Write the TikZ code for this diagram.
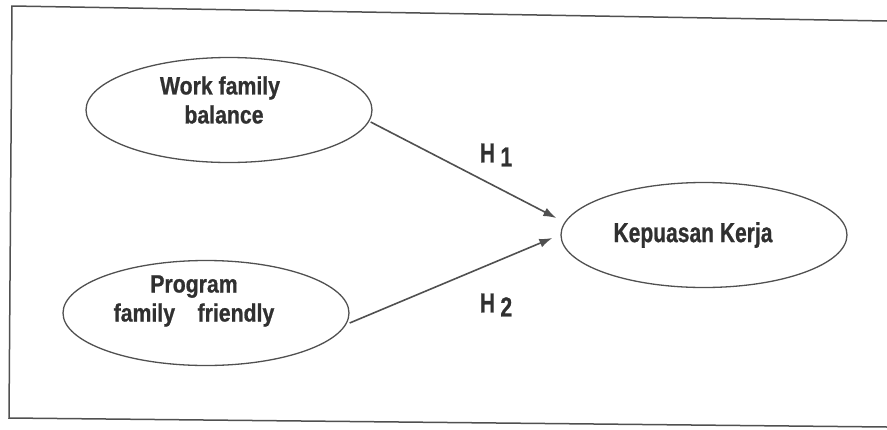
\documentclass[tikz,border=0pt]{standalone}
\usepackage{graphicx}
\usepackage{fontspec}
\setmainfont{Liberation Sans}[FakeStretch=0.85,BoldFeatures={FakeBold=0.8}]
\usetikzlibrary{shapes.geometric,arrows.meta,positioning}

\definecolor{inkline}{HTML}{505050}
\definecolor{inktext}{HTML}{303030}

\tikzset{
  var/.style={ellipse, draw=inkline, line width=1.3pt, minimum width=286pt, minimum height=105pt, inner sep=0pt},
  txt/.style={align=center, inner sep=0pt, text=inktext, font=\fontsize{25}{29}\selectfont\bfseries},
  big/.style={txt, font=\fontsize{27.5}{30}\selectfont\bfseries},
  conn/.style={draw=inkline, line width=1.6pt},
  frame/.style={draw=inkline, line width=1.5pt}
}

\begin{document}
\begin{tikzpicture}[x=1pt,y=-1pt,node distance=200pt,on grid,>={Latex[length=13pt,width=9pt]}]
  \useasboundingbox (0,0) rectangle (887,429);
  \draw[frame] (887,21) -- (12,6) -- (9,418) -- (887,427);
  \node[var] (wfb) at (229,110) {};
  \node[var] (pff) [below left=203pt and 23pt of wfb] {};
  \node[var] (kk) [below right=125pt and 475pt of wfb] {};
  \node[txt] (wfbtxt) [above left=10pt and 9pt of wfb] {Work family\\ \hspace*{8pt}balance};
  \node[txt] (pfftxt) [above left=12pt and 12pt of pff] {Program\\family\hspace{0.9em}friendly};
  \node[big] (kktxt) [left=11pt of kk] {\scalebox{0.9}[1]{Kepuasan Kerja}};
  \node[big] (h1) at (496,155) {\scalebox{0.9}[1]{H\hspace{6pt}\raisebox{-4pt}{1}}};
  \node[big] (h2) at (496,305) {\scalebox{0.9}[1]{H\hspace{6pt}\raisebox{-4pt}{2}}};
  \draw[->,conn] ([shift={(-2pt,-12pt)}]wfb.east) -- ([shift={(-4pt,17pt)}]kk.west);
  \draw[->,conn] ([yshift=-10pt]pff.east) -- ([shift={(-8pt,-3pt)}]kk.west);
\end{tikzpicture}
\end{document}
